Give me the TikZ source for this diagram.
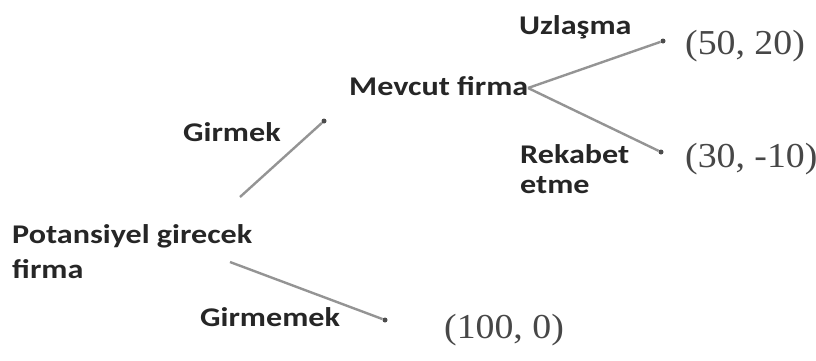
\documentclass[tikz,border=0pt]{standalone}
\usepackage{fontspec}
\setmainfont{Liberation Serif}
\newfontfamily\lblfont[FakeStretch=1.19]{Carlito}
\newfontfamily\payfont[FakeStretch=1.08]{Liberation Serif}
\begin{document}
\begin{tikzpicture}[x=1pt,y=-1pt,
  lbl/.style={font=\lblfont\bfseries\fontsize{27}{35}\selectfont, text=black!85, inner sep=0pt, anchor=base west, align=left},
  pay/.style={font=\payfont\fontsize{35}{40}\selectfont, text=black!72, inner sep=0pt, anchor=base west},
  edge/.style={draw=black!42, line width=2.4pt},
  tipdot/.style={circle, fill=black!70, inner sep=0pt, minimum size=5pt}
]
\useasboundingbox (0,0) rectangle (816,360);
% labels
\node[lbl] (pot) at (12,278) {Potansiyel girecek\\firma};
\node[lbl] (gir) at (183,141) {Girmek};
\node[lbl] (mev) at (349,95) {Mevcut firma};
\node[lbl] (uzl) at (519,34) {Uzlaşma};
\node[lbl, font=\lblfont\bfseries\fontsize{27}{30}\selectfont] (rek) at (520,193) {Rekabet\\etme};
\node[lbl] (girm) at (200,326) {Girmemek};
% payoffs
\node[pay] (p1) at (685,54) {(50, 20)};
\node[pay] (p2) at (685,167) {(30, -10)};
\node[pay] (p3) at (444,338) {(100, 0)};
% end points
\coordinate (s1) at (240,197);
\coordinate (s2) at (528,88);
\coordinate (s3) at (230,262);
\node[tipdot] (d1) at (324,121) {};
\node[tipdot] (d2) at (663,41) {};
\node[tipdot] (d3) at (661,152) {};
\node[tipdot] (d4) at (385,320) {};
% edges
\draw[edge] (s1) -- (d1);
\draw[edge] (s2) -- (d2);
\draw[edge] (s2) -- (d3);
\draw[edge] (s3) -- (d4);
\end{tikzpicture}
\end{document}
